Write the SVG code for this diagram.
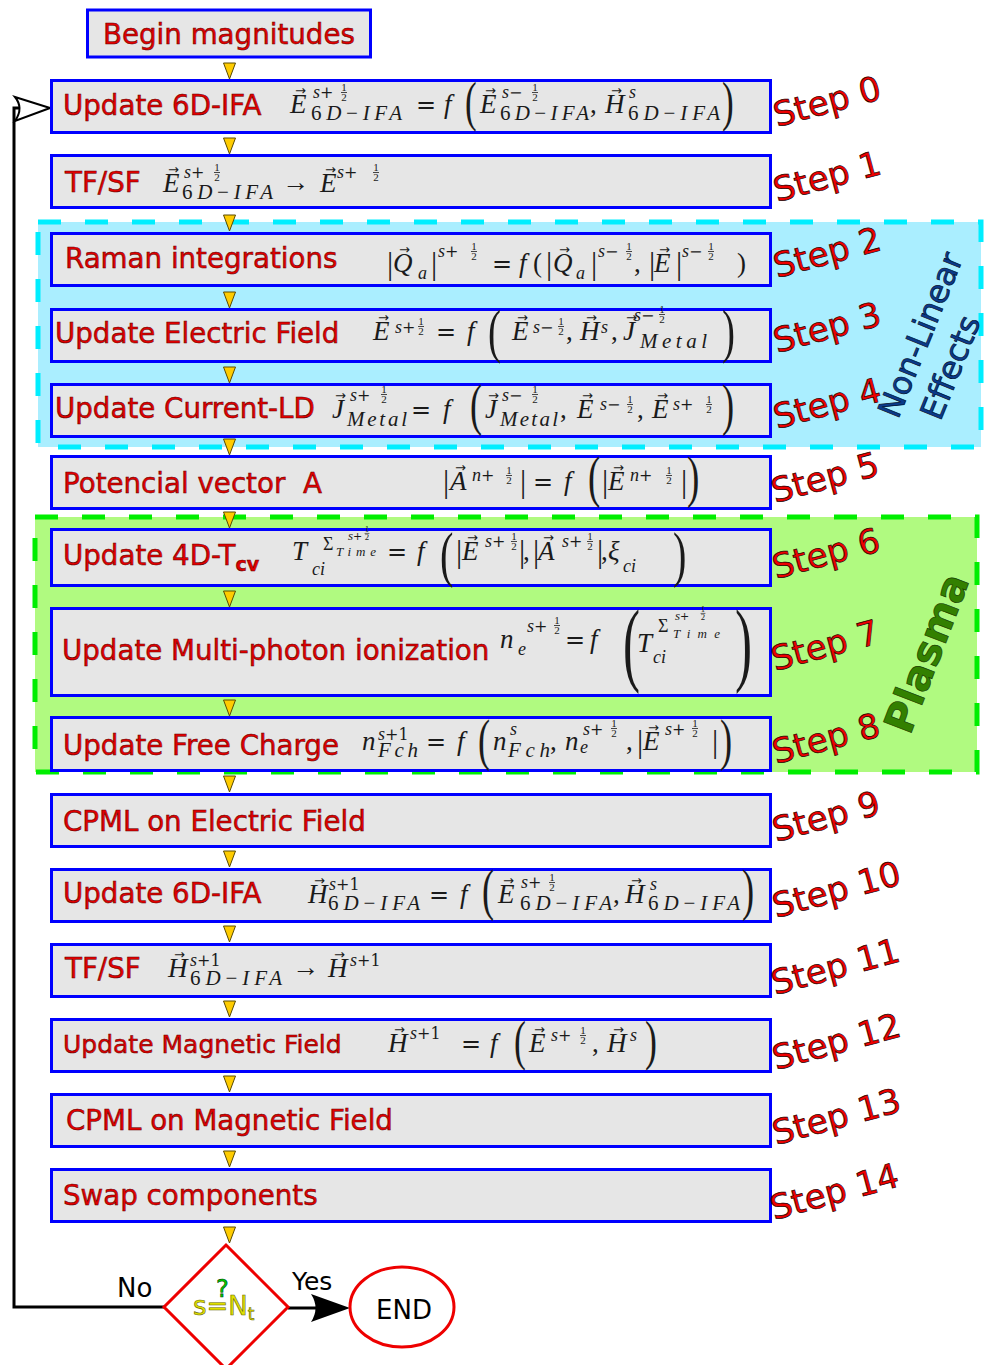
<svg xmlns="http://www.w3.org/2000/svg" width="987" height="1365" viewBox="0 0 987 1365">
<defs>
<style>
.box{fill:#e6e6e6;stroke:#0000ff;stroke-width:3}
.lbl{font-family:"DejaVu Sans",sans-serif;font-size:27.7px;fill:#e00000;stroke:#5a0000;stroke-width:0.5;white-space:pre}
.stp{font-family:"DejaVu Sans",sans-serif;font-size:34px;fill:#ee0000;stroke:#200000;stroke-width:0.7}
.m{font-family:"Liberation Serif",serif;font-style:italic;font-size:27px;fill:#1a1a1a}
.r{font-family:"Liberation Serif",serif;font-style:normal;font-size:27px;fill:#1a1a1a}
.bar{font-family:"Liberation Serif",serif;font-style:normal;font-size:31px;fill:#1a1a1a}
.e{font-family:"DejaVu Serif",serif;font-style:normal;font-size:24px;fill:#1a1a1a;text-anchor:middle}
.s{font-family:"Liberation Serif",serif;font-style:italic;font-size:18px;fill:#1a1a1a}
.sb{font-family:"Liberation Serif",serif;font-style:italic;font-size:21px;fill:#1a1a1a}
.sr{font-family:"DejaVu Serif",serif;font-style:normal;font-size:16px}
.sd{font-style:normal}
.t{font-family:"Liberation Serif",serif;font-style:italic;font-size:13px;fill:#1a1a1a}
.tr{font-family:"DejaVu Serif",serif;font-style:normal;font-size:11px}
.fr{font-family:"Liberation Serif",serif;font-style:normal;font-size:11px;fill:#1a1a1a;text-anchor:middle}
.bp{font-family:"Liberation Serif",serif;font-style:normal;fill:#1a1a1a}
.v{font-family:"DejaVu Sans",sans-serif;font-size:13px;fill:#1a1a1a}
.tri{fill:#ffcc00;stroke:#5a4a00;stroke-width:1}
.ln{fill:none;stroke:#000;stroke-width:3}
.blk{font-family:"DejaVu Sans",sans-serif;fill:#000}
</style>
<path id="tri" class="tri" d="M-6,0 L6,0 L0,16 Z"/>
<g id="h"><text class="fr" x="0" y="-1.5">1</text><text class="fr" x="0" y="9">2</text><path d="M-3,0.5h6" stroke="#1a1a1a" stroke-width="0.8"/></g>
</defs>
<rect width="987" height="1365" fill="#fff"/>

<g id="region-nonlinear">
<rect x="38" y="222" width="943" height="225" fill="#aaeeff" stroke="#00eeff" stroke-width="5" stroke-dasharray="23 24"/>
</g>
<g id="region-plasma">
<rect x="35" y="517" width="942" height="255" fill="#b0fa80" stroke="#00ee00" stroke-width="5" stroke-dasharray="23 24"/>
</g>

<g id="connectors">
<use href="#tri" x="229.5" y="63"/>
<use href="#tri" x="229.5" y="138"/>
<use href="#tri" x="229.5" y="215"/>
<use href="#tri" x="229.5" y="292"/>
<use href="#tri" x="229.5" y="367"/>
<use href="#tri" x="229.5" y="439"/>
<use href="#tri" x="229.5" y="512"/>
<use href="#tri" x="229.5" y="591"/>
<use href="#tri" x="229.5" y="700"/>
<use href="#tri" x="229.5" y="776"/>
<use href="#tri" x="229.5" y="851"/>
<use href="#tri" x="229.5" y="926"/>
<use href="#tri" x="229.5" y="1001"/>
<use href="#tri" x="229.5" y="1076"/>
<use href="#tri" x="229.5" y="1151"/>
<use href="#tri" x="229.5" y="1227"/>
<path class="ln" d="M164,1307 H14 V108 H20"/>
<path d="M50,108 L15,97 Q24,108 15,121 Z" fill="#fff" stroke="#000" stroke-width="2"/>
<path class="ln" d="M288,1308 H320"/>
<path d="M350,1308 L311,1294 Q320,1308 311,1322 Z" fill="#000"/>
<text class="blk" x="117" y="1297" font-size="26">No</text>
<text class="blk" x="292" y="1290" font-size="25">Yes</text>
</g>

<g id="n-begin">
<rect class="box" x="87.5" y="10" width="283" height="47"/>
<text class="lbl" x="103" y="44">Begin magnitudes</text>
</g>

<g id="n-step0">
<rect class="box" x="51.5" y="80.5" width="719" height="52"/>
<text class="lbl" x="63" y="115">Update 6D-IFA</text>
<text class="m" x="290" y="113">E</text><text class="v" x="295" y="95">→</text>
<text class="s" x="313" y="98">s<tspan class="sr">+</tspan></text>
<use href="#h" x="344" y="92"/>
<text class="sb" x="311" y="120" textLength="91"><tspan class="sd">6</tspan>D<tspan class="sd">−</tspan>IFA</text>
<text class="e" x="426" y="113">=</text>
<text class="m" x="444" y="113">f</text>
<text class="bp" font-size="54" transform="translate(465,120) scale(0.65,1)">(</text>
<text class="m" x="480" y="113">E</text><text class="v" x="485" y="95">→</text>
<text class="s" x="502" y="98">s<tspan class="sr">−</tspan></text>
<use href="#h" x="535" y="92"/>
<text class="sb" x="500" y="120" textLength="89"><tspan class="sd">6</tspan>D<tspan class="sd">−</tspan>IFA</text>
<text class="r" x="590" y="113">,</text>
<text class="m" x="605" y="113">H</text><text class="v" x="611" y="95">→</text>
<text class="s" x="629" y="98">s</text>
<text class="sb" x="628" y="120" textLength="92"><tspan class="sd">6</tspan>D<tspan class="sd">−</tspan>IFA</text>
<text class="bp" font-size="54" transform="translate(722,120) scale(0.65,1)">)</text>
<text class="stp" transform="translate(777,127) rotate(-15)">Step 0</text>
</g>

<g id="n-step1">
<rect class="box" x="51.5" y="155.5" width="719" height="52"/>
<text class="lbl" x="65" y="192">TF/SF</text>
<text class="m" x="163" y="192">E</text><text class="v" x="168" y="174">→</text>
<text class="s" x="184" y="178">s<tspan class="sr">+</tspan></text>
<use href="#h" x="217" y="172"/>
<text class="sb" x="182" y="199" textLength="91"><tspan class="sd">6</tspan>D<tspan class="sd">−</tspan>IFA</text>
<text class="r" x="282" y="191">→</text>
<text class="m" x="320" y="192">E</text><text class="v" x="325" y="174">→</text>
<text class="s" x="337" y="178">s<tspan class="sr">+</tspan></text>
<use href="#h" x="376" y="172"/>
<text class="stp" transform="translate(777,202) rotate(-15)">Step 1</text>
</g>

<g id="n-step2">
<rect class="box" x="51.5" y="233.5" width="719" height="52"/>
<text class="lbl" x="65" y="268">Raman integrations</text>
<text class="bar" x="387" y="274">|</text>
<text class="m" x="393" y="272">Q</text><text class="v" x="399" y="254">→</text>
<text class="s" x="418" y="279">a</text>
<text class="bar" x="431" y="274">|</text>
<text class="s" x="438" y="257">s<tspan class="sr">+</tspan></text>
<use href="#h" x="474" y="251"/>
<text class="e" x="502" y="272">=</text>
<text class="m" x="519" y="272">f</text>
<text class="r" x="533" y="272">(</text>
<text class="bar" x="546" y="274">|</text>
<text class="m" x="553" y="272">Q</text><text class="v" x="559" y="254">→</text>
<text class="s" x="576" y="279">a</text>
<text class="bar" x="591" y="274">|</text>
<text class="s" x="598" y="257">s<tspan class="sr">−</tspan></text>
<use href="#h" x="629" y="251"/>
<text class="r" x="634" y="272">,</text>
<text class="bar" x="649" y="274">|</text>
<text class="m" x="654" y="272">E</text><text class="v" x="659" y="254">→</text>
<text class="bar" x="676" y="274">|</text>
<text class="s" x="682" y="257">s<tspan class="sr">−</tspan></text>
<use href="#h" x="711" y="251"/>
<text class="r" x="737" y="272">)</text>
<text class="stp" transform="translate(777,278) rotate(-15)">Step 2</text>
</g>

<g id="n-step3">
<rect class="box" x="51.5" y="309.5" width="719" height="52"/>
<text class="lbl" x="55" y="343">Update Electric Field</text>
<text class="m" x="373" y="340">E</text><text class="v" x="378" y="322">→</text>
<text class="s" x="395" y="333">s<tspan class="sr">+</tspan></text>
<use href="#h" x="421" y="326"/>
<text class="e" x="446" y="340">=</text>
<text class="m" x="467" y="340">f</text>
<text class="bp" font-size="60" transform="translate(488,351) scale(0.65,1)">(</text>
<text class="m" x="512" y="340">E</text><text class="v" x="517" y="322">→</text>
<text class="s" x="533" y="333">s<tspan class="sr">−</tspan></text>
<use href="#h" x="561" y="326"/>
<text class="r" x="566" y="340">,</text>
<text class="m" x="580" y="340">H</text><text class="v" x="586" y="322">→</text>
<text class="s" x="601" y="333">s</text>
<text class="r" x="611" y="340">,</text>
<text class="m" x="623" y="340">J</text><text class="v" x="626" y="322">→</text>
<text class="s" x="634" y="321">s<tspan class="sr">−</tspan></text>
<use href="#h" x="662" y="314"/>
<text class="sb" x="640" y="348" textLength="67">Metal</text>
<text class="bp" font-size="60" transform="translate(722,351) scale(0.65,1)">)</text>
<text class="stp" transform="translate(777,353) rotate(-15)">Step 3</text>
</g>

<g id="n-step4">
<rect class="box" x="51.5" y="384.5" width="719" height="52"/>
<text class="lbl" x="55" y="418">Update Current-LD</text>
<text class="m" x="332" y="418">J</text><text class="v" x="335" y="400">→</text>
<text class="s" x="350" y="401">s<tspan class="sr">+</tspan></text>
<use href="#h" x="384" y="394"/>
<text class="sb" x="347" y="426" textLength="60">Metal</text>
<text class="e" x="421" y="418">=</text>
<text class="m" x="443" y="418">f</text>
<text class="bp" font-size="56" transform="translate(470,424) scale(0.65,1)">(</text>
<text class="m" x="485" y="418">J</text><text class="v" x="488" y="400">→</text>
<text class="s" x="502" y="401">s<tspan class="sr">−</tspan></text>
<use href="#h" x="535" y="394"/>
<text class="sb" x="500" y="426" textLength="58">Metal</text>
<text class="r" x="560" y="418">,</text>
<text class="m" x="577" y="418">E</text><text class="v" x="582" y="400">→</text>
<text class="s" x="600" y="410">s<tspan class="sr">−</tspan></text>
<use href="#h" x="630" y="404"/>
<text class="r" x="637" y="418">,</text>
<text class="m" x="652" y="418">E</text><text class="v" x="657" y="400">→</text>
<text class="s" x="673" y="410">s<tspan class="sr">+</tspan></text>
<use href="#h" x="709" y="404"/>
<text class="bp" font-size="56" transform="translate(722,424) scale(0.65,1)">)</text>
<text class="stp" transform="translate(777,429) rotate(-15)">Step 4</text>
</g>

<g id="n-step5">
<rect class="box" x="51.5" y="456.5" width="719" height="52"/>
<text class="lbl" x="63" y="493">Potencial vector  A</text>
<text class="bar" x="443" y="492">|</text>
<text class="m" x="450" y="490">A</text><text class="v" x="455" y="472">→</text>
<text class="s" x="472" y="481">n<tspan class="sr">+</tspan></text>
<use href="#h" x="509" y="475"/>
<text class="bar" x="520" y="492">|</text>
<text class="e" x="543" y="490">=</text>
<text class="m" x="564" y="490">f</text>
<text class="bp" font-size="57" transform="translate(588,496) scale(0.65,1)">(</text>
<text class="bar" x="602" y="492">|</text>
<text class="m" x="608" y="490">E</text><text class="v" x="613" y="472">→</text>
<text class="s" x="630" y="481">n<tspan class="sr">+</tspan></text>
<use href="#h" x="669" y="475"/>
<text class="bar" x="681" y="492">|</text>
<text class="bp" font-size="57" transform="translate(687,496) scale(0.65,1)">)</text>
<text class="stp" transform="translate(775,503) rotate(-15)">Step 5</text>
</g>

<g id="n-step6">
<rect class="box" x="51.5" y="529.5" width="719" height="56"/>
<text class="lbl" x="63" y="565">Update 4D-T<tspan style="font-size:19px;font-weight:bold" dy="6">cv</tspan></text>
<text class="m" x="292" y="560">T</text>
<text class="s" x="312" y="575">ci</text>
<text class="s" x="323" y="550"><tspan class="sd">Σ</tspan></text>
<text class="t" x="336" y="556" textLength="40">Time</text>
<text class="t" x="348" y="540">s<tspan class="tr">+</tspan></text>
<use href="#h" transform="translate(367,533) scale(0.8)"/>
<text class="e" x="397" y="560">=</text>
<text class="m" x="417" y="560">f</text>
<text class="bp" font-size="62" transform="translate(440,575) scale(0.65,1)">(</text>
<text class="bar" x="456" y="562">|</text>
<text class="m" x="462" y="560">E</text><text class="v" x="467" y="542">→</text>
<text class="s" x="485" y="547">s<tspan class="sr">+</tspan></text>
<use href="#h" x="514" y="541"/>
<text class="bar" x="519" y="562">|</text>
<text class="r" x="523" y="560">,</text>
<text class="bar" x="533" y="562">|</text>
<text class="m" x="538" y="560">A</text><text class="v" x="543" y="542">→</text>
<text class="s" x="562" y="547">s<tspan class="sr">+</tspan></text>
<use href="#h" x="590" y="541"/>
<text class="bar" x="597" y="562">|</text>
<text class="r" x="601" y="560">,</text>
<text class="m" x="608" y="560">ξ</text>
<text class="s" x="623" y="572">ci</text>
<text class="bp" font-size="62" transform="translate(673,575) scale(0.65,1)">)</text>
<text class="stp" transform="translate(776,579) rotate(-15)">Step 6</text>
</g>

<g id="n-step7">
<rect class="box" x="51.5" y="608.5" width="719" height="87"/>
<text class="lbl" x="62" y="660">Update Multi-photon ionization</text>
<text class="m" x="500" y="648">n</text>
<text class="s" x="518" y="655">e</text>
<text class="s" x="527" y="632">s<tspan class="sr">+</tspan></text>
<use href="#h" x="557" y="625"/>
<text class="e" x="575" y="648">=</text>
<text class="m" x="590" y="648">f</text>
<text class="bp" font-size="93" transform="translate(623,674) scale(0.55,1)">(</text>
<text class="m" x="637" y="652">T</text>
<text class="s" x="653" y="663">ci</text>
<text class="s" x="658" y="632"><tspan class="sd">Σ</tspan></text>
<text class="t" x="673" y="638" textLength="47">Time</text>
<text class="t" x="675" y="620">s<tspan class="tr">+</tspan></text>
<use href="#h" transform="translate(703,613) scale(0.8)"/>
<text class="bp" font-size="93" transform="translate(735,674) scale(0.55,1)">)</text>
<text class="stp" transform="translate(775,671) rotate(-15)">Step 7</text>
</g>

<g id="n-step8">
<rect class="box" x="51.5" y="717.5" width="719" height="53"/>
<text class="lbl" x="63" y="755">Update Free Charge</text>
<text class="m" x="362" y="750">n</text>
<text class="s" x="378" y="740">s<tspan class="sr">+1</tspan></text>
<text class="sb" x="378" y="757" textLength="40">Fch</text>
<text class="e" x="436" y="750">=</text>
<text class="m" x="457" y="750">f</text>
<text class="bp" font-size="56" transform="translate(478,759) scale(0.65,1)">(</text>
<text class="m" x="493" y="750">n</text>
<text class="s" x="510" y="735">s</text>
<text class="sb" x="508" y="757" textLength="42">Fch</text>
<text class="r" x="550" y="750">,</text>
<text class="m" x="565" y="750">n</text>
<text class="s" x="580" y="753">e</text>
<text class="s" x="583" y="735">s<tspan class="sr">+</tspan></text>
<use href="#h" x="614" y="728"/>
<text class="r" x="626" y="750">,</text>
<text class="bar" x="637" y="752">|</text>
<text class="m" x="643" y="750">E</text><text class="v" x="648" y="732">→</text>
<text class="s" x="665" y="735">s<tspan class="sr">+</tspan></text>
<use href="#h" x="695" y="728"/>
<text class="bar" x="712" y="752">|</text>
<text class="bp" font-size="56" transform="translate(720,759) scale(0.65,1)">)</text>
<text class="stp" transform="translate(776,764) rotate(-15)">Step 8</text>
</g>

<g id="n-step9">
<rect class="box" x="51.5" y="794.5" width="719" height="52"/>
<text class="lbl" x="63" y="831">CPML on Electric Field</text>
<text class="stp" transform="translate(776,842) rotate(-15)">Step 9</text>
</g>

<g id="n-step10">
<rect class="box" x="51.5" y="869.5" width="719" height="52"/>
<text class="lbl" x="63" y="903">Update 6D-IFA</text>
<text class="m" x="308" y="903">H</text><text class="v" x="314" y="885">→</text>
<text class="s" x="329" y="890">s<tspan class="sr">+1</tspan></text>
<text class="sb" x="328" y="910" textLength="92"><tspan class="sd">6</tspan>D<tspan class="sd">−</tspan>IFA</text>
<text class="e" x="439" y="903">=</text>
<text class="m" x="460" y="903">f</text>
<text class="bp" font-size="56" transform="translate(482,909) scale(0.65,1)">(</text>
<text class="m" x="498" y="903">E</text><text class="v" x="503" y="885">→</text>
<text class="s" x="521" y="888">s<tspan class="sr">+</tspan></text>
<use href="#h" x="552" y="882"/>
<text class="sb" x="520" y="910" textLength="92"><tspan class="sd">6</tspan>D<tspan class="sd">−</tspan>IFA</text>
<text class="r" x="613" y="903">,</text>
<text class="m" x="625" y="903">H</text><text class="v" x="631" y="885">→</text>
<text class="s" x="650" y="890">s</text>
<text class="sb" x="648" y="910" textLength="92"><tspan class="sd">6</tspan>D<tspan class="sd">−</tspan>IFA</text>
<text class="bp" font-size="56" transform="translate(742,909) scale(0.65,1)">)</text>
<text class="stp" transform="translate(776,918) rotate(-15)">Step 10</text>
</g>

<g id="n-step11">
<rect class="box" x="51.5" y="944.5" width="719" height="52"/>
<text class="lbl" x="65" y="978">TF/SF</text>
<text class="m" x="168" y="977">H</text><text class="v" x="174" y="959">→</text>
<text class="s" x="190" y="966">s<tspan class="sr">+1</tspan></text>
<text class="sb" x="190" y="985" textLength="92"><tspan class="sd">6</tspan>D<tspan class="sd">−</tspan>IFA</text>
<text class="r" x="292" y="976">→</text>
<text class="m" x="328" y="977">H</text><text class="v" x="334" y="959">→</text>
<text class="s" x="350" y="966">s<tspan class="sr">+1</tspan></text>
<text class="stp" transform="translate(775,995) rotate(-15)">Step 11</text>
</g>

<g id="n-step12">
<rect class="box" x="51.5" y="1019.5" width="719" height="52"/>
<text class="lbl" x="63" y="1053" style="font-size:25px">Update Magnetic Field</text>
<text class="m" x="388" y="1052">H</text><text class="v" x="394" y="1034">→</text>
<text class="s" x="410" y="1039">s<tspan class="sr">+1</tspan></text>
<text class="e" x="471" y="1052">=</text>
<text class="m" x="490" y="1052">f</text>
<text class="bp" font-size="55" transform="translate(514,1059) scale(0.65,1)">(</text>
<text class="m" x="529" y="1052">E</text><text class="v" x="534" y="1034">→</text>
<text class="s" x="551" y="1041">s<tspan class="sr">+</tspan></text>
<use href="#h" x="583" y="1035"/>
<text class="r" x="592" y="1052">,</text>
<text class="m" x="607" y="1052">H</text><text class="v" x="613" y="1034">→</text>
<text class="s" x="630" y="1041">s</text>
<text class="bp" font-size="55" transform="translate(645,1059) scale(0.65,1)">)</text>
<text class="stp" transform="translate(776,1070) rotate(-15)">Step 12</text>
</g>

<g id="n-step13">
<rect class="box" x="51.5" y="1094.5" width="719" height="52"/>
<text class="lbl" x="66" y="1130">CPML on Magnetic Field</text>
<text class="stp" transform="translate(776,1145) rotate(-15)">Step 13</text>
</g>

<g id="n-step14">
<rect class="box" x="51.5" y="1169.5" width="719" height="52"/>
<text class="lbl" x="63" y="1205">Swap components</text>
<text class="stp" transform="translate(774,1220) rotate(-15)">Step 14</text>
</g>

<g id="n-decision">
<path d="M226,1245 L288,1307 L226,1369 L164,1307 Z" fill="#fff" stroke="#ee0000" stroke-width="3"/>
<text x="193" y="1315" font-family="DejaVu Sans,sans-serif" font-size="26" fill="#e0e000" stroke="#6a6a00" stroke-width="0.6">s=N<tspan style="font-size:17px" dy="5">t</tspan></text>
<text x="216" y="1297" font-family="DejaVu Sans,sans-serif" font-size="24" fill="#00cc00" stroke="#004400" stroke-width="0.6">?</text>
</g>

<g id="n-end">
<ellipse cx="402" cy="1307" rx="52" ry="40" fill="#fff" stroke="#ee0000" stroke-width="3"/>
<text class="blk" x="376" y="1319" font-size="26">END</text>
</g>

<g id="label-nonlinear">
<text transform="translate(898,420) rotate(-68)" font-family="DejaVu Sans,sans-serif" font-size="32" fill="#0a3a8a" stroke="#001030" stroke-width="0.7"><tspan x="0" y="0">Non-Linear</tspan><tspan x="14" y="40">Effects</tspan></text>
</g>

<g id="label-plasma">
<text transform="translate(910,736) rotate(-69)" font-family="DejaVu Sans,sans-serif" font-size="41" font-weight="bold" fill="#338000" stroke="#1a4000" stroke-width="0.7">Plasma</text>
</g>
</svg>
